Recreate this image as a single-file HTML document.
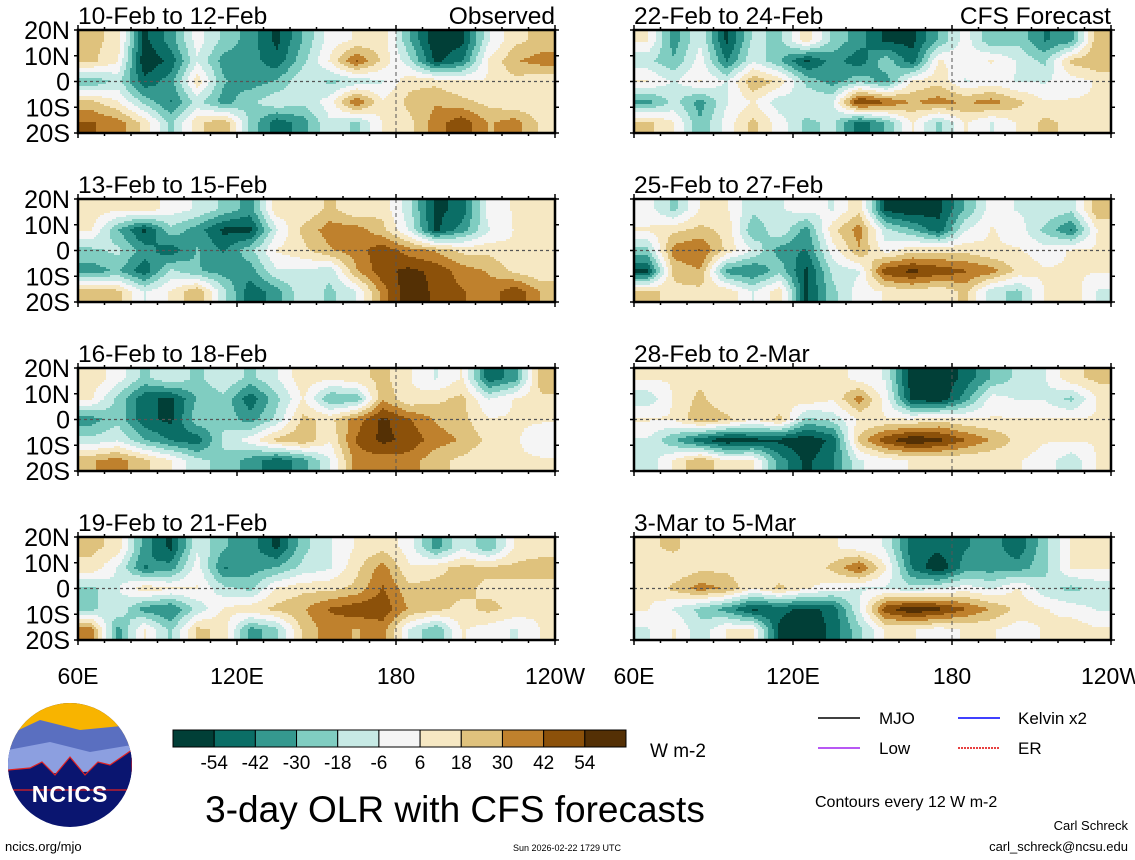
<!DOCTYPE html>
<html><head><meta charset="utf-8">
<style>
html,body{margin:0;padding:0;background:#fff;}
svg{display:block;font-family:"Liberation Sans",sans-serif;}
</style></head>
<body>
<svg id="chart" width="1135" height="860" viewBox="0 0 1135 860">
<g id="panels"></g>
<g id="bottom">
  <g>
    <clipPath id="logoclip"><circle cx="70" cy="765" r="62"/></clipPath>
    <g clip-path="url(#logoclip)">
      <rect x="8" y="703" width="124" height="124" fill="#0a1570"/>
      <rect x="8" y="703" width="124" height="45" fill="#f8b400"/>
      <path d="M8,735 L40,720 L80,730 L132,725 L132,760 L8,770Z" fill="#5a6fc0"/>
      <path d="M8,750 L50,742 L90,752 L132,745 L132,770 L8,775Z" fill="#8c9fe0"/>
      <path d="M8,770 L30,768 L42,762 L55,775 L70,757 L85,775 L98,762 L110,765 L132,750 L132,790 L8,790Z" fill="#0a1570" stroke="#e02020" stroke-width="1.2"/>
    </g>
    <text x="70" y="802" font-size="23" font-weight="bold" fill="#fff" text-anchor="middle" letter-spacing="1">NCICS</text>
  </g>
  <g id="cbar"></g>
  <text x="650" y="757" font-size="19">W m-2</text>
  <text x="455" y="822" font-size="37" text-anchor="middle">3-day OLR with CFS forecasts</text>
  <line x1="818" y1="718" x2="860" y2="718" stroke="#000" stroke-width="1.5"/>
  <text x="879" y="724" font-size="17">MJO</text>
  <line x1="958" y1="718" x2="1000" y2="718" stroke="#0000ff" stroke-width="1.5"/>
  <text x="1018" y="724" font-size="17">Kelvin x2</text>
  <line x1="818" y1="748" x2="860" y2="748" stroke="#a020f0" stroke-width="1.5"/>
  <text x="879" y="754" font-size="17">Low</text>
  <line x1="958" y1="748" x2="1000" y2="748" stroke="#e00000" stroke-width="1.5" stroke-dasharray="2 1"/>
  <text x="1018" y="754" font-size="17">ER</text>
  <text x="815" y="807" font-size="16">Contours every 12 W m-2</text>
  <text x="1128" y="830" font-size="13" text-anchor="end">Carl Schreck</text>
  <text x="1128" y="851" font-size="13" text-anchor="end">carl_schreck@ncsu.edu</text>
  <text x="5" y="851" font-size="13">ncics.org/mjo</text>
  <text x="567" y="851" font-size="9" text-anchor="middle">Sun 2026-02-22 1729 UTC</text>
</g>
</svg>
<script>
// data
const lonCenters = [65,75,85,95,105,115,125,135,145,155,165,175,185,195,205,215,225,235];
const latCenters = [16,8,0,-8,-16];
const panelTitles = ["10-Feb to 12-Feb","22-Feb to 24-Feb","13-Feb to 15-Feb","25-Feb to 27-Feb","16-Feb to 18-Feb","28-Feb to 2-Mar","19-Feb to 21-Feb","3-Mar to 5-Mar"];
const cbarLabels = [-54,-42,-30,-18,-6,6,18,30,42,54];
const xTickLabels = ["60E","120E","180","120W"];
const xTickLons = [60,120,180,240];
const yTickLabels = ["20N","10N","0","10S","20S"];
const yTickLats = [20,10,0,-10,-20];
const olr0 = [
 [18,12,-48,-30,0,-18,-30,-48,-24,0,6,12,-24,-54,-48,-6,12,18],
 [18,6,-54,-42,-6,-30,-30,-42,-18,6,36,12,-12,-48,-36,6,24,30],
 [-24,-12,-42,-30,12,-24,-30,-24,-6,-18,-12,-6,12,12,6,6,12,6],
 [18,6,-18,-36,-12,-30,-18,-6,-12,0,36,6,18,24,18,12,6,6],
 [36,30,12,-18,12,24,-18,-42,-30,-6,-18,6,12,30,42,24,30,12]];
const olr1 = [
 [6,-30,-6,-48,-12,-18,12,-18,-30,-48,-48,-24,0,-24,-18,-36,-30,24],
 [-12,-24,0,-36,-6,-24,-48,-30,-42,-18,-42,6,0,6,-6,-18,18,24],
 [6,-6,6,-6,24,12,-18,-30,-18,-30,6,12,-6,0,-6,-6,0,6],
 [-30,-12,-30,-6,6,-12,-6,-6,48,36,24,30,24,30,18,6,6,6],
 [18,6,-24,0,18,0,-18,-12,-42,-24,6,-18,6,-6,6,18,12,12]];
const olr2 = [
 [12,6,12,0,-6,-18,-30,12,6,18,6,12,-12,-48,-42,0,6,12],
 [6,-24,-48,-18,-30,-48,-48,-6,18,30,30,18,-6,-48,-30,-6,6,12],
 [-18,-12,-30,-42,-24,-36,-18,6,12,24,30,42,30,24,12,12,6,6],
 [-30,-24,-42,-12,-24,-30,-30,-6,-6,-12,24,42,48,42,30,24,12,6],
 [24,18,-6,6,24,-12,-42,-30,-6,-18,-6,30,54,42,36,30,42,24]];
const olr3 = [
 [0,-18,6,6,-12,-6,0,-6,12,-48,-54,-48,-24,0,-6,-6,-12,24],
 [6,12,18,12,-24,-6,-30,12,30,-12,-24,-42,-6,6,0,-18,-36,6],
 [-18,30,36,12,-6,-30,-36,0,24,0,12,12,12,6,6,0,6,6],
 [-48,18,24,-30,-36,-18,-48,-12,-6,42,48,42,36,30,12,6,6,6],
 [18,12,12,12,-6,12,-48,-18,0,6,12,6,18,-12,-18,6,12,-6]];
const olr4 = [
 [12,0,-18,-6,-18,-6,-18,-6,12,6,12,18,6,-6,6,-42,-30,24],
 [6,-18,-42,-48,-24,-18,-42,-18,6,-24,-24,24,6,12,18,-6,6,12],
 [-30,-18,-42,-48,-18,-18,-30,-12,18,12,30,48,36,24,18,6,6,6],
 [-12,-6,-24,-36,-42,-12,0,18,24,6,36,48,42,30,24,12,6,0],
 [24,30,18,6,-12,-18,-30,-42,-30,-6,30,30,30,18,12,6,6,6]];
const olr5 = [
 [6,6,12,6,6,12,6,12,0,-6,-54,-54,-42,-24,-12,-6,12,18],
 [-12,6,18,6,6,6,12,6,30,0,-48,-54,-30,0,-6,-6,-18,6],
 [6,6,24,18,6,18,-18,-12,6,6,6,12,6,6,6,6,6,6],
 [-6,-24,-42,-54,-48,-48,-54,-42,18,42,54,48,36,24,12,6,6,6],
 [-12,6,24,6,6,-30,-48,-36,-6,0,6,6,6,6,6,0,-12,6]];
const olr6 = [
 [18,12,-30,-48,-6,-24,-30,-48,-18,-6,6,12,0,-30,-6,-24,6,6],
 [12,-6,-36,-30,0,-36,-30,-24,-12,-6,12,30,6,12,18,18,18,24],
 [-18,-6,12,6,6,-12,-18,6,12,12,18,36,18,18,18,12,12,6],
 [-18,-6,-30,-36,-12,6,12,18,24,36,42,42,24,18,12,18,12,6],
 [30,-30,6,-18,18,12,-30,-18,18,30,24,30,-6,-24,6,0,-6,6]];
const olr7 = [
 [12,18,6,6,6,6,12,6,0,-6,-42,-42,-36,-30,-42,-18,6,12],
 [6,6,12,12,6,6,6,18,36,6,-36,-54,-30,-30,-30,-18,6,6],
 [6,18,30,24,6,18,6,0,-6,-6,-12,-6,0,-6,6,-12,-18,-12],
 [6,-6,-18,-30,-48,-42,-48,-42,-6,42,54,48,36,24,12,6,0,-6],
 [-6,6,-12,6,6,-48,-54,-42,-18,6,6,0,6,6,0,6,12,6]];
const panelData = [olr0,olr1,olr2,olr3,olr4,olr5,olr6,olr7];

const palette = ["#013f37","#0b6e66","#35998f","#80cdc1","#c7eae5","#f5f5f5","#f6e8c3","#dfc27d","#bf812d","#8c510a","#543005"];
function levelOf(v){let i=Math.round(v/12*1.2)+5;return Math.max(0,Math.min(10,i));}

const NS="http://www.w3.org/2000/svg";
function mk(tag,attrs,parent){const e=document.createElementNS(NS,tag);for(const k in attrs)e.setAttribute(k,attrs[k]);parent.appendChild(e);return e;}
const colX=[78,634], rowY=[30,199,368,537], PW=477, PH=103;
const panelsG=document.getElementById('panels');

function sample(grid,lon,lat){
  const nc=lonCenters.length, nr=latCenters.length;
  let fc=(lon-lonCenters[0])/10; fc=Math.max(0,Math.min(nc-1,fc));
  let fr=(latCenters[0]-lat)/8; fr=Math.max(0,Math.min(nr-1,fr));
  const c0=Math.floor(fc), r0=Math.floor(fr), c1=Math.min(nc-1,c0+1), r1=Math.min(nr-1,r0+1);
  const tx=fc-c0, ty=fr-r0;
  const a=grid[r0][c0]*(1-tx)+grid[r0][c1]*tx;
  const b=grid[r1][c0]*(1-tx)+grid[r1][c1]*tx;
  return a*(1-ty)+b*ty;
}

panelData.forEach((grid,p)=>{
  const x0=colX[p%2], y0=rowY[Math.floor(p/2)];
  const xs=lon=>x0+(lon-60)/180*PW;
  const ys=lat=>y0+(20-lat)/40*PH;
  const xinv=x=>60+(x-x0)/PW*180;
  const yinv=y=>20-(y-y0)/PH*40;
  const g=mk('g',{},panelsG);
  
  
  const hm=mk('g',{'shape-rendering':'crispEdges'},g);
  
  
  const step=2;
  for(let y=0;y<PH;y+=step){
    const h=Math.min(step,PH-y);
    let runStart=0, runLev=-1;
    for(let x=0;;x+=step){
      const done = x>=PW;
      const lev = done ? -2 : levelOf(sample(grid,xinv(x0+x+step/2),yinv(y0+y+h/2)));
      if(lev!==runLev){
        if(runLev>=0){
          const r=mk('rect',{x:x0+runStart,y:y0+y,width:Math.min(x,PW)-runStart+0.3,height:h+0.3,fill:palette[runLev]},hm);
          
          
        }
        runStart=x; runLev=lev;
      }
      if(done)break;
    }
  }
  const eq=mk('line',{x1:x0,x2:x0+PW,y1:ys(0),y2:ys(0),stroke:'#555','stroke-dasharray':'3 3','stroke-width':1.2},g);
  
  
  const dl=mk('line',{x1:xs(180),x2:xs(180),y1:y0,y2:y0+PH,stroke:'#555','stroke-dasharray':'4 3','stroke-width':1},g);
  
  
  for(let lon=60;lon<=240;lon+=10){
    const len=(lon%60===0)?5:3;
    mk('line',{x1:xs(lon),x2:xs(lon),y1:y0-len,y2:y0,stroke:'#000','stroke-width':1.5},g);
    mk('line',{x1:xs(lon),x2:xs(lon),y1:y0+PH,y2:y0+PH+len,stroke:'#000','stroke-width':1.5},g);
  }
  yTickLats.forEach(lat=>{
    mk('line',{x1:x0-4,x2:x0,y1:ys(lat),y2:ys(lat),stroke:'#000','stroke-width':1.5},g);
    mk('line',{x1:x0+PW,x2:x0+PW+4,y1:ys(lat),y2:ys(lat),stroke:'#000','stroke-width':1.5},g);
  });
  const fr=mk('rect',{x:x0,y:y0,width:PW,height:PH,fill:'none',stroke:'#000','stroke-width':2.5},g);
  
  
  const t=mk('text',{x:x0,y:y0-6,'font-size':24.5},g);
  t.textContent=panelTitles[p];
  
  
  if(p<2){
    const s=mk('text',{x:x0+PW,y:y0-6,'font-size':24.5,'text-anchor':'end'},g);
    s.textContent=p===0?'Observed':'CFS Forecast';
    
    
  }
  if(p%2===0){
    yTickLabels.forEach((lab,i)=>{
      const yt=mk('text',{x:x0-8,y:ys(yTickLats[i])+9,'font-size':25,'text-anchor':'end'},g);
      yt.textContent=lab;
      
      
    });
  }
  if(p>=6){
    xTickLabels.forEach((lab,i)=>{
      const xt=mk('text',{x:xs(xTickLons[i]),y:684,'font-size':23,'text-anchor':'middle'},g);
      xt.textContent=lab;
      
      
    });
  }
});

const cb=document.getElementById('cbar');
const cbX0=173, cbW=453/11;
palette.forEach((col,i)=>{
  const r=mk('rect',{x:cbX0+i*cbW,y:730,width:cbW,height:17,fill:col,stroke:'#000','stroke-width':1},cb);
  
  
});
cbarLabels.forEach((v,i)=>{
  const t=mk('text',{x:cbX0+(i+1)*cbW,y:769,'font-size':19,'text-anchor':'middle'},cb);
  t.textContent=v;
  
  
});
</script>
</body></html>
